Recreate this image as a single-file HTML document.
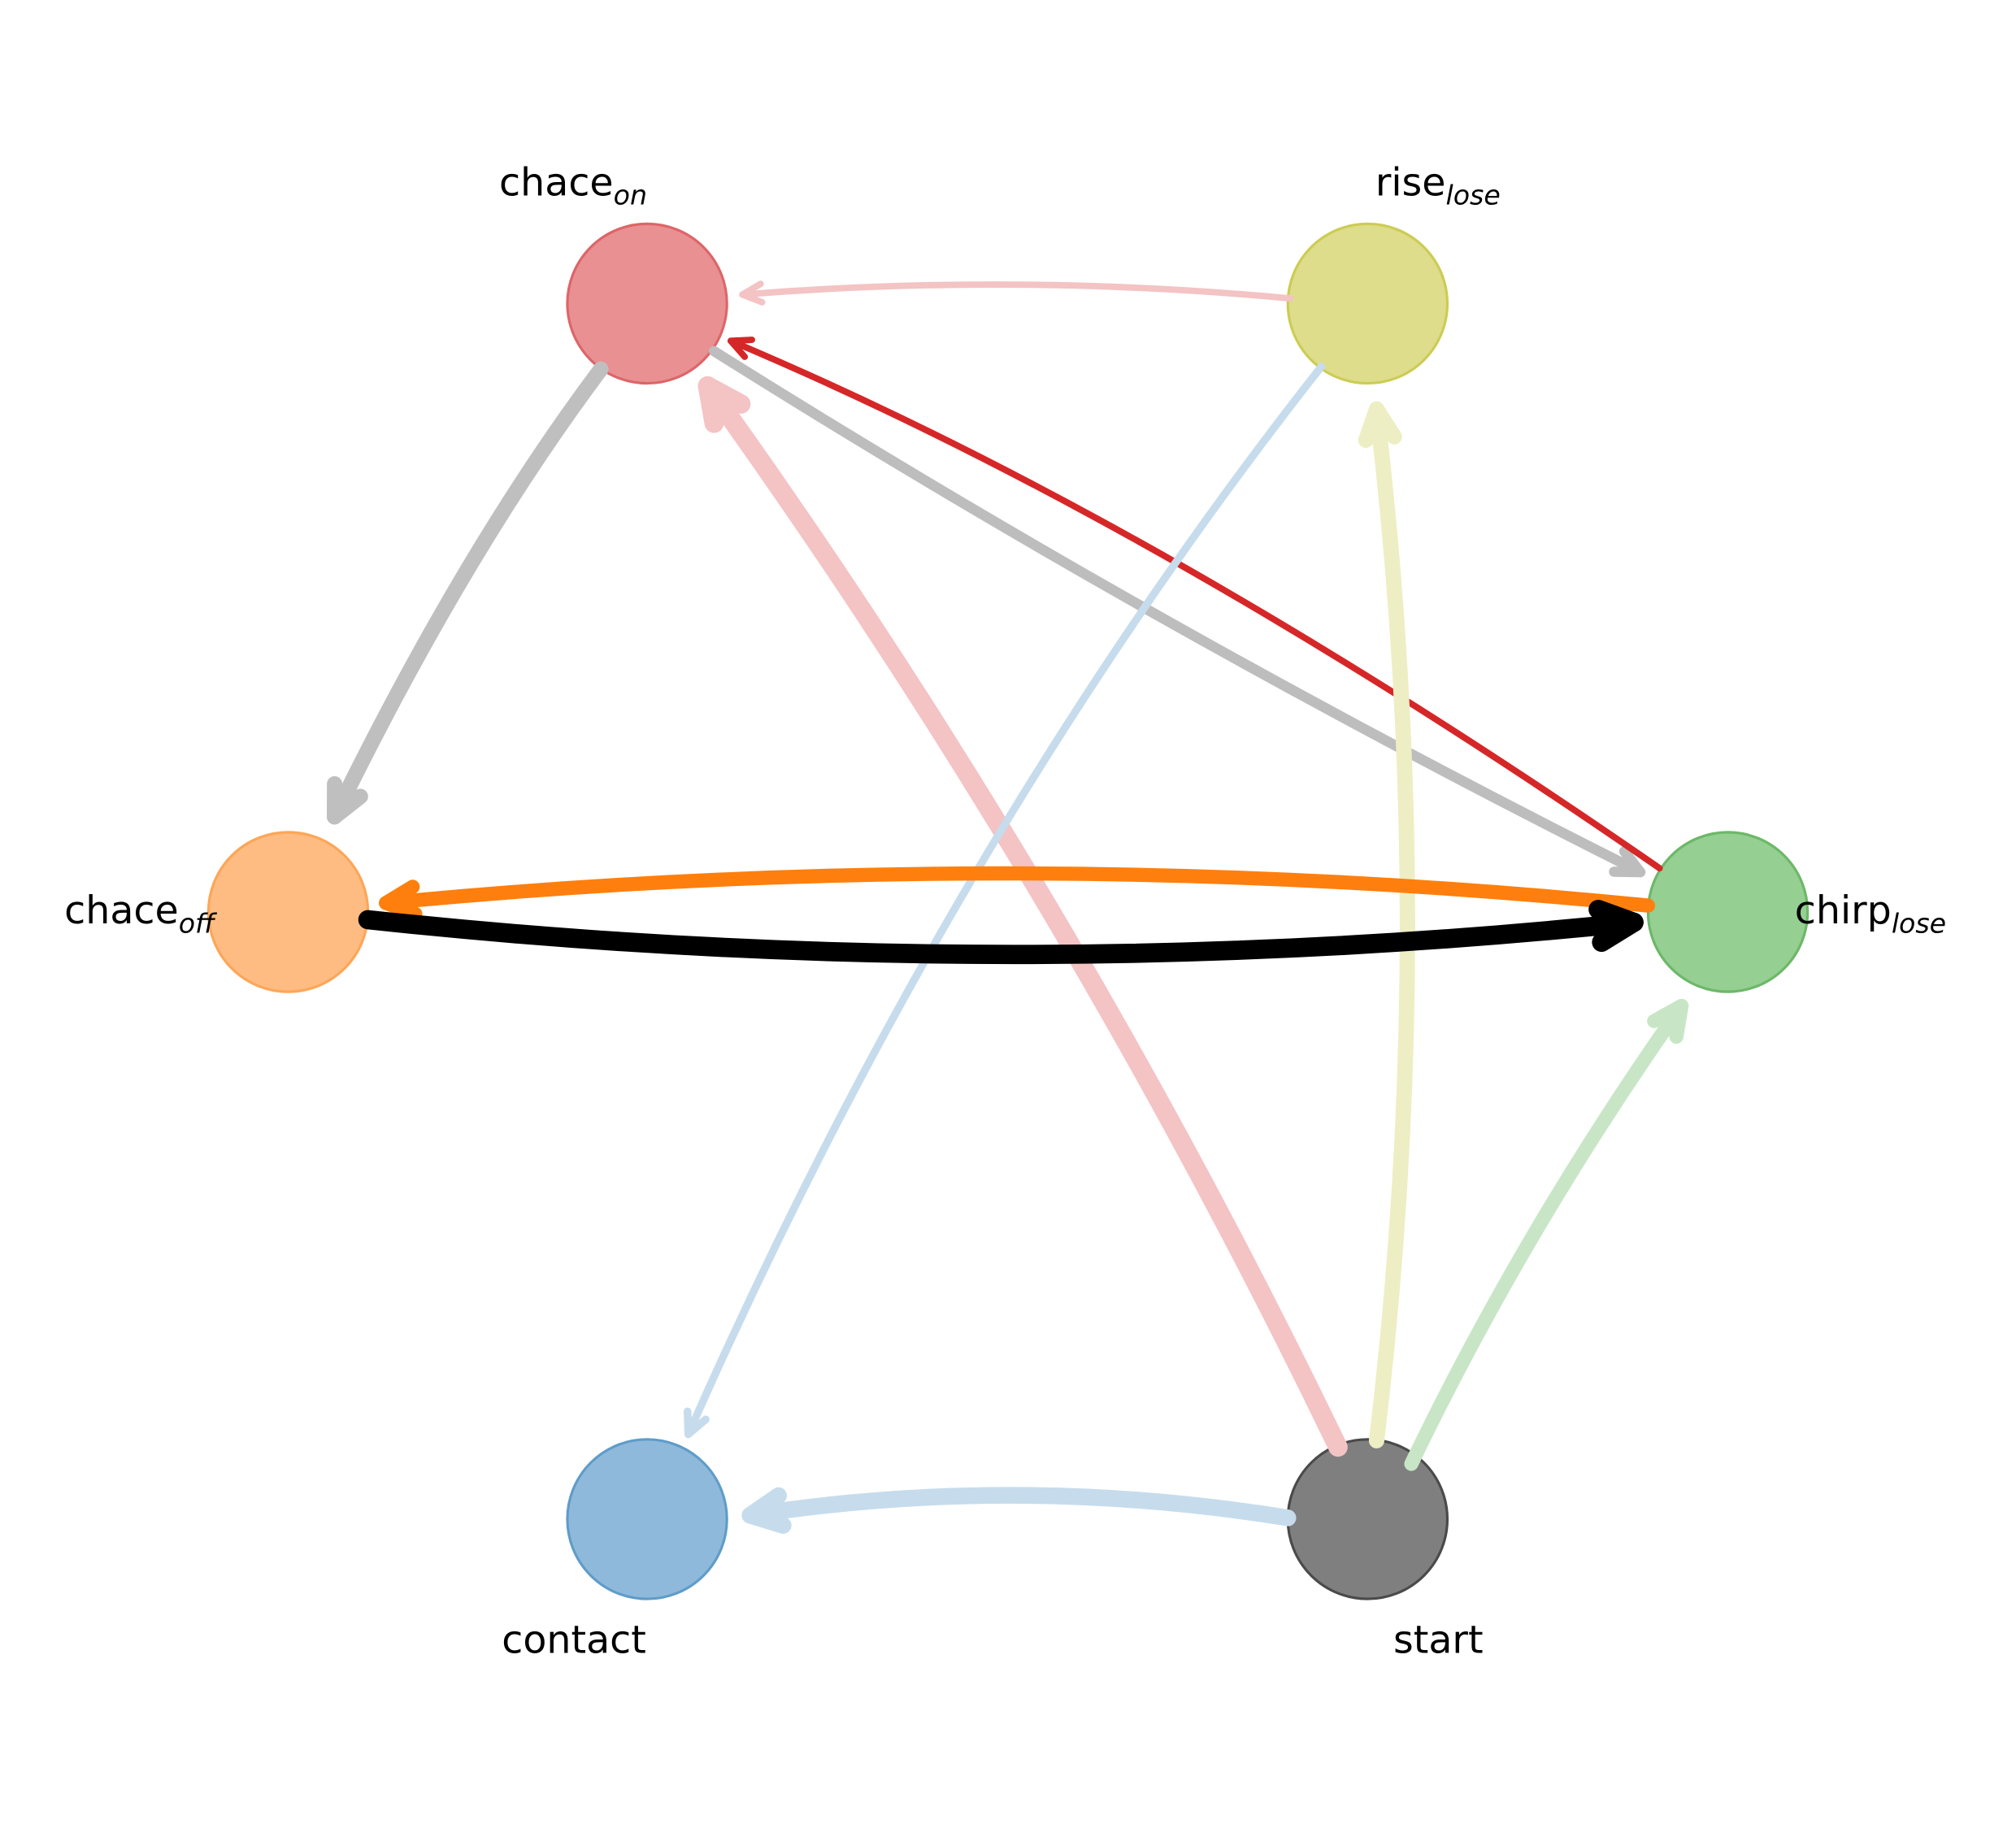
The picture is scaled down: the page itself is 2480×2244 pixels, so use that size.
<!DOCTYPE html>
<html><head><meta charset="utf-8"><style>
html,body{margin:0;padding:0;background:#fff;}
svg{display:block;}
text{font-family:"DejaVu Sans","Liberation Sans",sans-serif;fill:#000;}
</style></head><body>
<svg id="s" width="2480" height="2244" viewBox="0 0 1567 1418" preserveAspectRatio="none" xmlns="http://www.w3.org/2000/svg">
<g id="nodes">
<circle cx="503" cy="236" r="62" fill="#e99092" stroke="#dd6568" stroke-width="2"/>
<circle cx="1063" cy="236" r="62" fill="#dddd8b" stroke="#cccc55" stroke-width="2"/>
<circle cx="224" cy="709" r="62" fill="#febc83" stroke="#fda657" stroke-width="2"/>
<circle cx="1343" cy="709" r="62" fill="#95cf92" stroke="#6cb868" stroke-width="2"/>
<circle cx="503" cy="1181" r="62" fill="#8fb9da" stroke="#5f9cc9" stroke-width="2"/>
<circle cx="1063" cy="1181" r="62" fill="#7f7f7f" stroke="#4a4a4a" stroke-width="2"/>
</g>
<g id="edges" fill="none" stroke-linecap="round" stroke-linejoin="round"></g>
<g font-size="30">
<text x="388" y="152">chace<tspan font-size="21" font-style="italic" dy="7">on</tspan></text>
<text x="1069" y="152">rise<tspan font-size="21" font-style="italic" dy="7">lose</tspan></text>
<text x="50" y="718">chace<tspan font-size="21" font-style="italic" dy="7">off</tspan></text>
<text x="1395" y="718">chirp<tspan font-size="21" font-style="italic" dy="7">lose</tspan></text>
<text x="390" y="1285">contact</text>
<text x="1083" y="1285">start</text>
</g>
</svg>
<script>
var E=[
[1003,232,790,212,577,229,"#f4c3c4",5],
[467,287,360,430,260,635,"#bfbfbf",12],
[555,273,900,490,1275,678,"#bdbdbd",8],
[1290,675,900,405,568,265,"#d62728",5],
[1040,1125,830,690,550,300,"#f4c3c4",15],
[1027,285,740,650,535,1115,"#c6dcec",6],
[1070,1120,1118,720,1070,318,"#eeeec4",12],
[1097,1138,1185,955,1307,782,"#c8e6c6",11],
[1001,1180,790,1146,583,1178,"#c6dcec",13],
[1281,704,790,655,300,702,"#ff7f0e",11],
[286,715,780,768,1270,717,"#000000",15]
];
var g=document.getElementById('edges'),ns="http://www.w3.org/2000/svg";
E.forEach(function(e){
 var p=document.createElementNS(ns,'path');
 p.setAttribute('d','M'+e[0]+','+e[1]+' Q'+e[2]+','+e[3]+' '+e[4]+','+e[5]);
 p.setAttribute('stroke',e[6]);p.setAttribute('stroke-width',e[7]);g.appendChild(p);
 var dx=e[4]-e[2],dy=e[5]-e[3],L=Math.hypot(dx,dy);dx/=L;dy/=L;
 var h=10+e[7]*1.3,a=0.45,c=Math.cos(a),s=Math.sin(a);
 var ax=-dx*c+dy*s,ay=-dy*c-dx*s,bx=-dx*c-dy*s,by=-dy*c+dx*s;
 var q=document.createElementNS(ns,'path');
 q.setAttribute('d','M'+(e[4]+ax*h)+','+(e[5]+ay*h)+' L'+e[4]+','+e[5]+' L'+(e[4]+bx*h)+','+(e[5]+by*h));
 q.setAttribute('stroke',e[6]);q.setAttribute('stroke-width',e[7]);g.appendChild(q);
});
</script>
</body></html>
